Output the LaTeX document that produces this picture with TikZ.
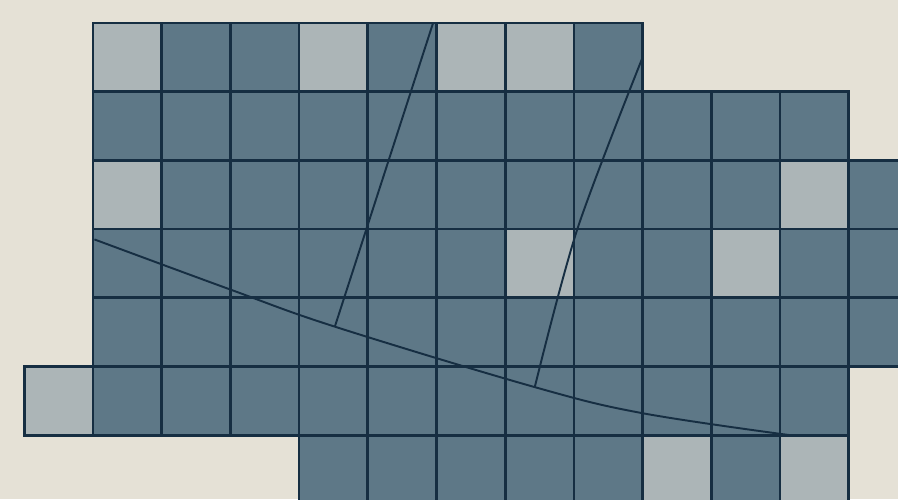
\documentclass[tikz,border=0pt]{standalone}
\usepackage{tikz}
\definecolor{Fondo}{RGB}{229,225,214}
\definecolor{Pizarra}{RGB}{94,120,135}
\definecolor{Claro}{RGB}{172,181,183}
\definecolor{Linea}{RGB}{22,46,66}

\begin{document}
\begin{tikzpicture}[x=1cm, y=-1cm,
        cell/.style={draw=Linea, fill=Pizarra, line width=1.1pt},
        pale/.style={cell, fill=Claro},
        trace/.style={draw=Linea, line width=0.8pt, line join=round}
    ]
        % ================= FONDO Y MARCO =================
        \fill[Fondo] (-1.354,-0.335) rectangle (11.718,6.929);
        \clip (-1.354,-0.335) rectangle (11.718,6.929);

        % ================= CELDAS OSCURAS (FILA A FILA) =================
        \foreach \c in {0,...,7}  \draw[cell] (\c,0) rectangle ++(1,1);
        \foreach \c in {0,...,10} \draw[cell] (\c,1) rectangle ++(1,1);
        \foreach \c in {0,...,11} \draw[cell] (\c,2) rectangle ++(1,1);
        \foreach \c in {0,...,11} \draw[cell] (\c,3) rectangle ++(1,1);
        \foreach \c in {0,...,11} \draw[cell] (\c,4) rectangle ++(1,1);
        \foreach \c in {-1,...,10} \draw[cell] (\c,5) rectangle ++(1,1);
        \foreach \c in {3,...,10} \draw[cell] (\c,6) rectangle ++(1,1);

        % ================= CELDAS CLARAS =================
        \foreach \c/\r in {0/0, 3/0, 5/0, 6/0, 0/2, 10/2, 6/3, 9/3, -1/5, 8/6, 10/6}
            \draw[pale] (\c,\r) rectangle ++(1,1);

        % ================= TRAZAS =================
        \coordinate (inicio_curva) at (0.02,3.15);
        \coordinate (corte_a) at (3.52,4.42);
        \coordinate (corte_b) at (6.43,5.30);
        \coordinate (fin_curva) at (10.15,6.0);
        \coordinate (tope_a) at (4.95,0);
        \coordinate (tope_b) at (8.0,0.5);

        \draw[trace] plot[smooth, tension=0.6] coordinates {(inicio_curva) (2.0,3.88) (corte_a) (corte_b) (8.0,5.68) (fin_curva)};
        \draw[trace] (tope_a) -- (corte_a);
        \draw[trace] plot[smooth] coordinates {(tope_b) (7.05,3.0) (corte_b)};
    \end{tikzpicture}
\end{document}
